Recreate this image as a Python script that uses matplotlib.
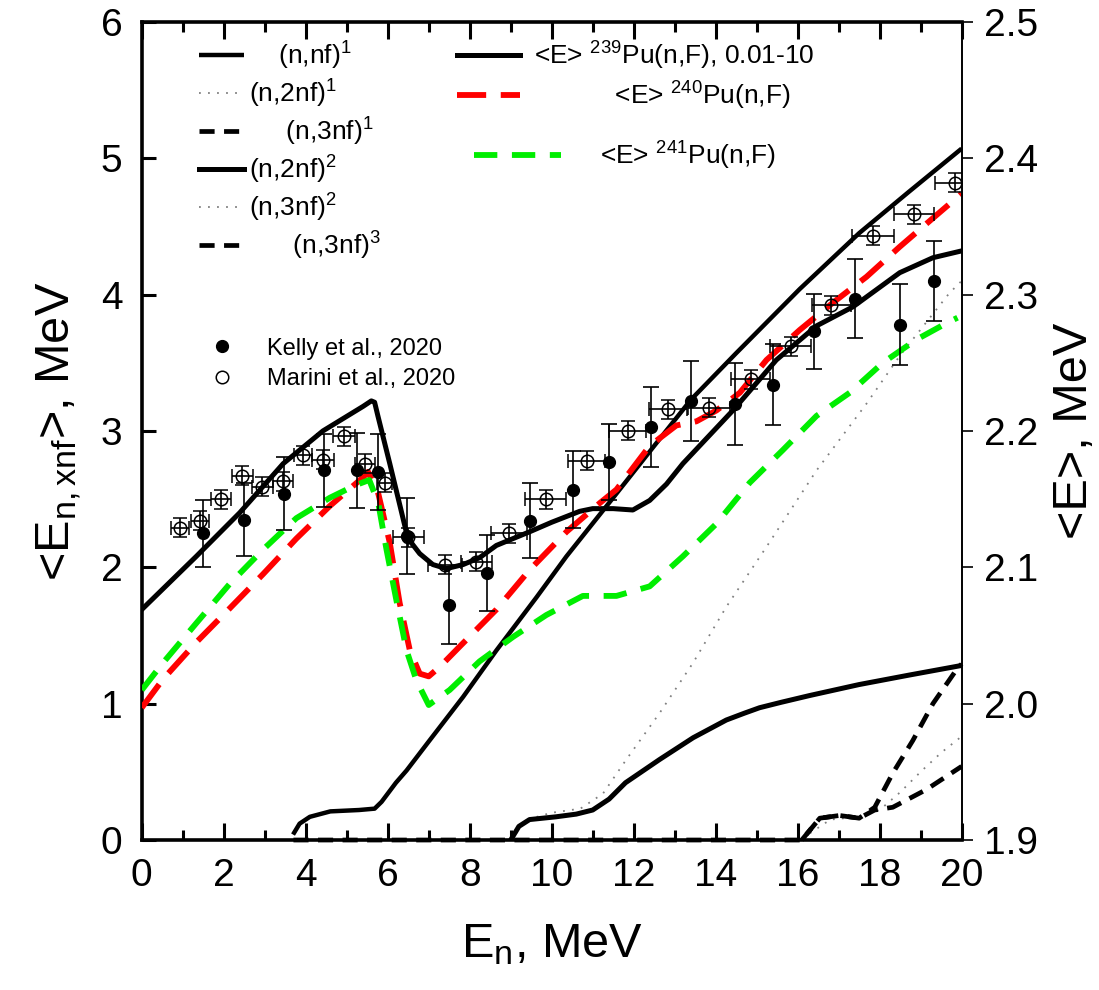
"""
<E> of prompt fission neutrons for Pu isotopes and <E_n,xnf> of pre-fission neutrons
"""
import numpy as np
import matplotlib
matplotlib.use('Agg')
import matplotlib.pyplot as plt

plt.rcParams['font.family'] = ['Liberation Sans', 'DejaVu Sans']
plt.rcParams['mathtext.fontset'] = 'custom'
plt.rcParams['mathtext.rm'] = 'Liberation Sans'
plt.rcParams['mathtext.it'] = 'Liberation Sans:italic'
plt.rcParams['mathtext.default'] = 'regular'

# ---- left axis: <E_n,xnf>, MeV ----
# (n,nf)^1
nnf1_x = [3.69, 3.85, 4.1, 4.6, 5.3, 5.68, 5.85, 6.0, 6.2, 6.46, 7.02, 7.84, 8.65, 9.63,
          10.36, 11.5, 12.5, 13.4, 14.5, 16.05, 17.5, 18.7, 20.0]
nnf1_y = [0.04, 0.12, 0.17, 0.21, 0.22, 0.23, 0.28, 0.34, 0.42, 0.51, 0.73, 1.05, 1.39,
          1.78, 2.08, 2.51, 2.89, 3.23, 3.57, 4.04, 4.45, 4.75, 5.07]
# (n,2nf)^1
n2nf1_x = [9.0, 9.4, 10.0, 10.7, 11.25, 11.82, 12.63, 13.45, 14.26, 15.24, 16.46,
           17.68, 18.49, 19.7, 20.0]
n2nf1_y = [0.0, 0.15, 0.20, 0.23, 0.34, 0.59, 0.93, 1.30, 1.71, 2.15, 2.71,
           3.20, 3.55, 4.01, 4.10]
# (n,3nf)^1
n3nf1_x = [3.7, 16.1, 16.54, 17.02, 17.5, 17.88, 18.32, 18.81, 19.3, 19.9, 20.0]
n3nf1_y = [0.0, 0.0, 0.16, 0.18, 0.16, 0.24, 0.49, 0.73, 1.00, 1.26, 1.29]
# (n,2nf)^2
n2nf2_x = [9.02, 9.2, 9.46, 10.1, 10.6, 11.0, 11.4, 11.8, 12.63, 13.45, 14.26, 14.7,
           15.07, 15.6, 16.3, 17.5, 18.73, 20.0]
n2nf2_y = [0.01, 0.10, 0.15, 0.17, 0.19, 0.22, 0.30, 0.42, 0.59, 0.75, 0.88, 0.93,
           0.97, 1.01, 1.06, 1.14, 1.21, 1.28]
# (n,3nf)^2
n3nf2_x = [16.3, 16.8, 17.5, 18.0, 18.5, 19.0, 19.5, 20.0]
n3nf2_y = [0.05, 0.15, 0.17, 0.22, 0.35, 0.50, 0.64, 0.76]
# (n,3nf)^3
n3nf3_x = [16.1, 16.54, 17.02, 17.5, 17.88, 18.32, 19.14, 20.0]
n3nf3_y = [0.0, 0.16, 0.18, 0.16, 0.22, 0.24, 0.37, 0.54]

# ---- right axis: <E>, MeV ----
pu239_x = [0.0, 1.33, 2.39, 3.45, 4.42, 5.4, 5.6, 5.68, 5.76, 6.05, 6.3, 6.46, 6.6, 6.78,
           7.1, 7.43, 7.84, 8.24, 8.65, 9.46, 10.0, 10.68, 11.0, 11.5, 11.98, 12.39,
           12.8, 13.2, 14.42, 15.48, 16.46, 17.35, 18.49, 19.3, 20.0]
pu239_E = [2.069, 2.108, 2.140, 2.176, 2.200, 2.218, 2.222, 2.221, 2.211, 2.176, 2.145,
           2.125, 2.117, 2.110, 2.102, 2.099, 2.102, 2.107, 2.116, 2.126, 2.133, 2.141,
           2.143, 2.143, 2.142, 2.149, 2.161, 2.176, 2.215, 2.252, 2.277, 2.291, 2.316,
           2.327, 2.332]

pu240_x = [0.0, 0.52, 1.33, 2.15, 2.96, 3.77, 4.59, 5.4, 5.52, 5.77, 6.05, 6.29, 6.54,
           6.78, 7.0, 7.27, 7.76, 8.65, 9.46, 10.36, 11.17, 11.58, 12.39, 13.04, 13.53,
           14.02, 14.59, 15.24, 16.05, 16.86, 17.68, 18.49, 19.3, 20.0]
pu240_E = [1.997, 2.018, 2.045, 2.070, 2.095, 2.121, 2.145, 2.166, 2.170, 2.154, 2.118,
           2.074, 2.039, 2.022, 2.020, 2.027, 2.042, 2.069, 2.098, 2.126, 2.147, 2.157,
           2.189, 2.204, 2.207, 2.215, 2.228, 2.252, 2.274, 2.294, 2.313, 2.335, 2.356,
           2.374]

pu241_x = [0.0, 0.52, 1.33, 2.15, 2.96, 3.77, 4.59, 5.2, 5.55, 5.77, 5.97, 6.21, 6.46,
           6.7, 7.0, 7.51, 8.24, 9.06, 9.87, 10.76, 11.58, 12.39, 13.2, 14.02, 14.83,
           15.64, 16.46, 17.27, 18.08, 18.9, 19.63, 19.9]
pu241_E = [2.010, 2.030, 2.059, 2.088, 2.113, 2.136, 2.151, 2.160, 2.164, 2.147, 2.113,
           2.076, 2.039, 2.017, 1.999, 2.010, 2.031, 2.049, 2.065, 2.079, 2.079, 2.086,
           2.108, 2.132, 2.162, 2.186, 2.211, 2.228, 2.250, 2.267, 2.279, 2.283]

# Kelly et al., 2020
kelly_x = [1.5, 2.5, 3.47, 4.45, 5.26, 5.77, 6.46, 7.49, 8.42, 9.46, 10.52, 11.41,
           12.43, 13.41, 14.47, 15.41, 16.4, 17.41, 18.5, 19.32]
kelly_E = [2.125, 2.135, 2.154, 2.171, 2.171, 2.170, 2.123, 2.072, 2.096, 2.134, 2.157,
           2.177, 2.203, 2.222, 2.220, 2.234, 2.273, 2.297, 2.278, 2.310]
kelly_err = [0.0245, 0.027, 0.027, 0.0265, 0.0275, 0.028, 0.028, 0.028, 0.028, 0.0275,
             0.028, 0.028, 0.0295, 0.0295, 0.030, 0.0295, 0.0275, 0.029, 0.030, 0.0295]

# Marini et al., 2020
marini_x = [0.93, 1.43, 1.94, 2.45, 2.94, 3.45, 3.93, 4.42, 4.93, 5.44, 5.93, 6.5,
            7.39, 8.16, 8.96, 9.85, 10.85, 11.85, 12.84, 13.84, 14.85, 15.83, 16.82,
            17.84, 18.83, 19.83]
marini_E = [2.129, 2.134, 2.150, 2.167, 2.159, 2.163, 2.182, 2.179, 2.196, 2.176, 2.162,
            2.122, 2.102, 2.104, 2.125, 2.150, 2.178, 2.200, 2.216, 2.217, 2.238, 2.262,
            2.292, 2.343, 2.359, 2.382]
marini_xerr = [0.22, 0.22, 0.24, 0.26, 0.25, 0.25, 0.22, 0.26, 0.26, 0.24, 0.18, 0.38,
               0.41, 0.38, 0.43, 0.50, 0.45, 0.45, 0.47, 0.51, 0.47, 0.50, 0.47, 0.51,
               0.49, 0.49]
marini_err = 0.007

fig = plt.figure(figsize=(10.99, 9.90), dpi=100)
ax = fig.add_axes([0.129, 0.1515, 0.746, 0.8265])
ax2 = ax.twinx()

# pre-fission neutron curves (left axis)
l1, = ax.plot(nnf1_x, nnf1_y, color='black', lw=3.2, solid_capstyle='butt')
l2, = ax.plot(n2nf1_x, n2nf1_y, color='0.5', lw=1.3, linestyle=(0, (1, 4)))
l3, = ax.plot(n3nf1_x, n3nf1_y, color='black', lw=3.4, linestyle=(0, (3.2, 2.0)),
              clip_on=False, zorder=3)
l4, = ax.plot(n2nf2_x, n2nf2_y, color='black', lw=3.6)
l5, = ax.plot(n3nf2_x, n3nf2_y, color='0.5', lw=1.3, linestyle=(0, (1, 4)))
l6, = ax.plot(n3nf3_x, n3nf3_y, color='black', lw=3.4, linestyle=(0, (3.2, 2.0)),
              clip_on=False, zorder=3)

# <E> curves (right axis)
e1, = ax2.plot(pu239_x, pu239_E, color='black', lw=3.6)
e2, = ax2.plot(pu240_x, pu240_E, color='#ff0000', lw=4.2, linestyle=(0, (5, 2.5)))
e3, = ax2.plot(pu241_x, pu241_E, color='#00ee00', lw=4.2, linestyle=(0, (4, 2.5)))

kel = ax2.errorbar(kelly_x, kelly_E, yerr=kelly_err, fmt='o', color='black', ms=8.5,
                   elinewidth=1.2, capsize=6, capthick=1.2)
mar = ax2.errorbar(marini_x, marini_E, xerr=marini_xerr, yerr=marini_err, fmt='o',
                   mfc='none', mec='black', color='black', ms=9, mew=1.1,
                   elinewidth=1.2, capsize=5, capthick=1.2)

# axes, ticks
ax.set_xlim(0, 20)
ax.set_ylim(0, 6)
ax2.set_ylim(1.9, 2.5)
ax.set_xticks(np.arange(0, 21, 2))
ax.set_xticks(np.arange(0, 21, 1), minor=True)
ax.set_yticks(np.arange(0, 7, 1))
ax2.set_yticks(np.arange(1.9, 2.51, 0.1))
ax2.set_yticklabels([f'{v:.1f}' for v in np.arange(1.9, 2.51, 0.1)])

ax.tick_params(axis='x', which='major', direction='in', top=True, length=12, width=2.2,
               labelsize=28, pad=13)
ax.tick_params(axis='x', which='minor', direction='in', top=True, length=7, width=2.2)
ax.tick_params(axis='y', direction='in', length=10, width=2.2, labelsize=28, pad=14)
ax2.tick_params(axis='y', direction='out', length=8, width=1.2, labelsize=28, pad=8)

# left/bottom/top frame belongs to ax, right side to ax2
for side in ('left', 'bottom', 'top'):
    ax.spines[side].set_linewidth(2.6)
    ax2.spines[side].set_visible(False)
ax.spines['right'].set_visible(False)
ax2.spines['right'].set_linewidth(1.4)

ax.set_xlabel('E$_n$, MeV', fontsize=35, labelpad=20)
ax.set_ylabel('<E$_{n,xnf}$>, MeV', fontsize=35, labelpad=12)
ax2.set_ylabel('<E>, MeV', fontsize=35, labelpad=10)

# legends
leg1 = ax2.legend([l1, l2, l3, l4, l5, l6],
                  ['    (n,nf)$^1$', '(n,2nf)$^1$', '     (n,3nf)$^1$',
                   '(n,2nf)$^2$', '(n,3nf)$^2$', '      (n,3nf)$^3$'],
                  loc='upper left', bbox_to_anchor=(0.0695, 0.978), frameon=False,
                  fontsize=19, handlelength=1.7, handletextpad=0.2, labelspacing=0.22,
                  borderpad=0, borderaxespad=0)
leg2 = ax2.legend([e1, e2],
                  ['<E> $^{239}$Pu(n,F), 0.01-10', '           <E> $^{240}$Pu(n,F)'],
                  loc='upper left', bbox_to_anchor=(0.384, 0.978), frameon=False,
                  fontsize=19, handlelength=2.4, handletextpad=0.55, labelspacing=0.3,
                  borderpad=0, borderaxespad=0)
leg3 = ax2.legend([e3], ['<E> $^{241}$Pu(n,F)'],
                  loc='upper left', bbox_to_anchor=(0.405, 0.856), frameon=False,
                  fontsize=19, handlelength=3.3, handletextpad=1.5,
                  borderpad=0, borderaxespad=0)
leg4 = ax2.legend([kel[0], mar[0]], ['Kelly et al., 2020', 'Marini et al., 2020'],
                  loc='upper left', bbox_to_anchor=(0.084, 0.614), frameon=False,
                  fontsize=17, handlelength=1.0, handletextpad=1.4, labelspacing=0.35,
                  numpoints=1, borderpad=0, borderaxespad=0)
ax2.add_artist(leg1)
ax2.add_artist(leg2)
ax2.add_artist(leg3)

fig.savefig('out.png', dpi=100)
